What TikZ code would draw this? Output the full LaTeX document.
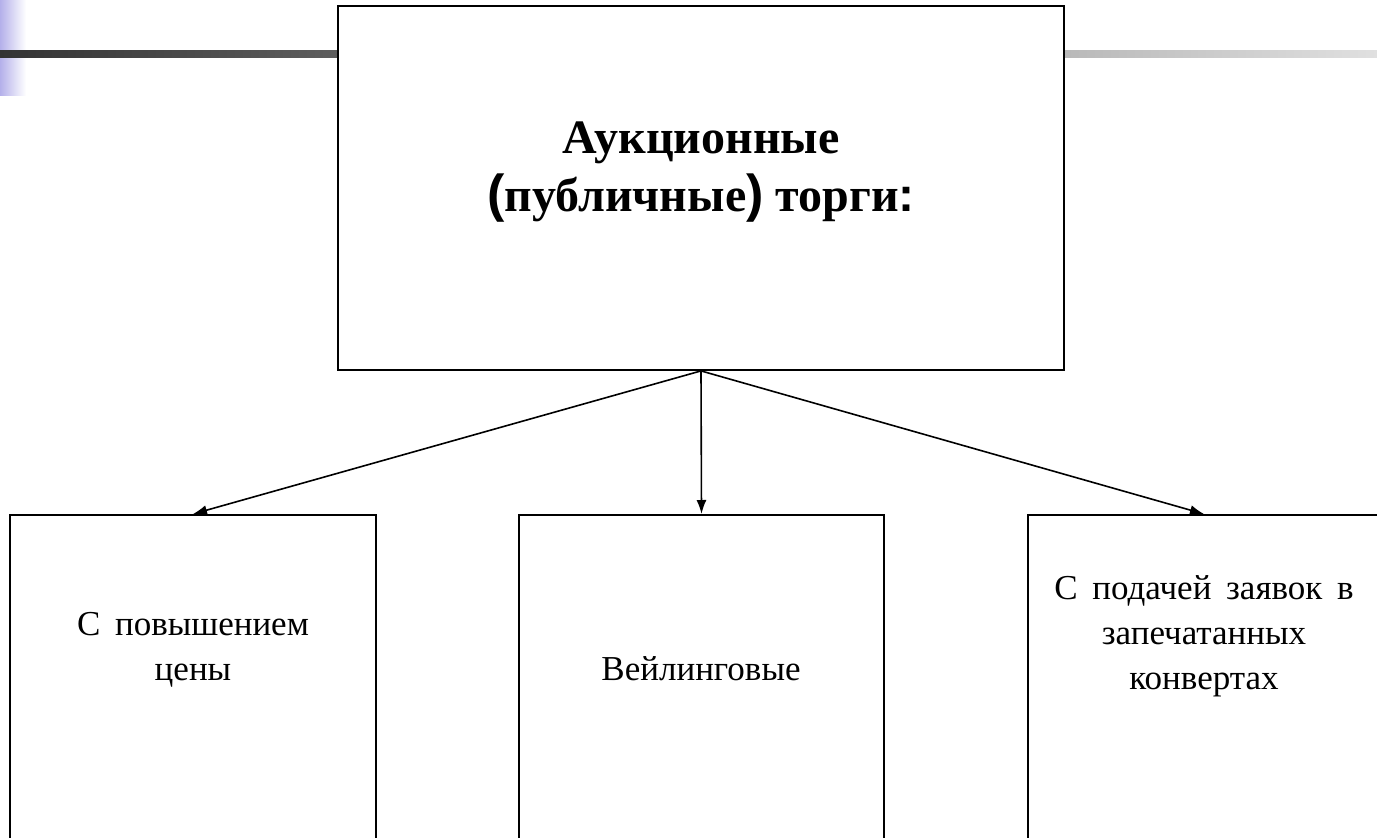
\documentclass[tikz,border=0pt]{standalone}
\usepackage{fontspec}
\setmainfont{Liberation Serif}
\newfontfamily\symsans{Liberation Sans}
\usetikzlibrary{arrows.meta}
\definecolor{barL}{HTML}{333333}
\definecolor{barR}{HTML}{E0E0E0}
\definecolor{lav}{HTML}{B4B0EA}
\newcommand\widewords{\spaceskip=0.42em plus 0.1em\relax}
\tikzset{
  box/.style={draw=black, line width=1.8pt, fill=white, inner sep=0pt},
  lbl/.style={align=center, font=\fontsize{35}{45}\selectfont\widewords, inner sep=0pt},
  ttl/.style={align=center, font=\fontsize{48}{58}\selectfont\bfseries, inner sep=0pt},
  arr/.style={line width=1.6pt, -{Latex[length=14pt,width=10pt]}}
}
\begin{document}
\begin{tikzpicture}[x=1pt,y=-1pt]
\useasboundingbox (0,0) rectangle (1377,838);
\clip (0,0) rectangle (1377,838);
\fill[white] (0,0) rectangle (1377,838);
% decorations
\shade[left color=lav, right color=white] (0,0) rectangle (26,95);
\shade[left color=barL, right color=barR] (0,50) rectangle (1377,57);
% top box
\node[box, minimum width=726pt, minimum height=364pt] (top) at (701,188) {};
\node[ttl] (title) at (701,172) {Аукционные\\{\fontsize{52}{58}\symsans\bfseries(}публичные{\fontsize{52}{58}\symsans\bfseries)} торги{\symsans\bfseries:}};
% bottom boxes
\node[box, anchor=north, minimum width=366pt, minimum height=340pt] (b1) at (193,514) {};
\node[box, anchor=north, minimum width=365pt, minimum height=340pt] (b2) at (701.5,514) {};
\node[box, anchor=north, minimum width=352pt, minimum height=340pt] (b3) at (1204,514) {};
\node[lbl] (t1) at (193,650) {С повышением\\цены};
\node[lbl] (t2) at (701,669) {Вейлинговые};
\node[lbl] (t3) at (1204,636) {С подачей заявок в\\запечатанных\\конвертах};
% arrows
\draw[arr] (top.south) -- (b1.north);
\draw[arr] (top.south) -- (b2.north);
\draw[arr] (top.south) -- (b3.north);
\end{tikzpicture}
\end{document}
